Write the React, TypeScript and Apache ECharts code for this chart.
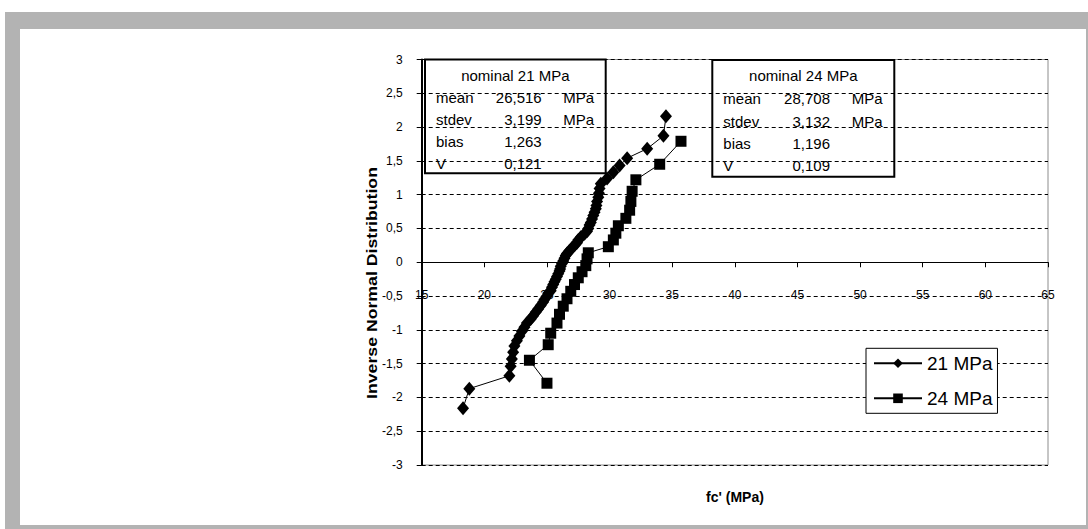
import React, { useEffect, useRef } from "react";
import * as echarts from "echarts";

const FONT = "Liberation Sans, Arial, sans-serif";

// 21 MPa series (x = fc' MPa, y = inverse normal)
const s21x = [18.3, 18.8, 22.0, 22.1, 22.2, 22.3, 22.4, 22.6, 22.8, 23.0, 23.2, 23.4, 23.7, 23.9, 24.1, 24.3, 24.5, 24.7, 24.8, 25.0, 25.1, 25.3, 25.4, 25.5, 25.6, 25.7, 25.8, 25.9, 26.0, 26.05, 26.1, 26.2,
  26.3, 26.4, 26.5, 26.6, 26.8, 27.0, 27.2, 27.4, 27.5, 27.7, 28.0, 28.2, 28.3, 28.4, 28.5, 28.6, 28.7, 28.8, 28.9, 28.95, 29.0, 29.1, 29.15, 29.2, 29.3, 29.8, 30.3, 30.8, 31.4, 33.0, 34.3, 34.5];
const s21y = [-2.16, -1.87, -1.68, -1.54, -1.43, -1.33, -1.24, -1.16, -1.09, -1.02, -0.96, -0.9, -0.84, -0.79, -0.74, -0.69, -0.64, -0.59, -0.55, -0.5, -0.46, -0.42, -0.37, -0.33, -0.29, -0.25, -0.21, -0.17, -0.13, -0.1, -0.06, -0.02,
  0.02, 0.06, 0.1, 0.13, 0.17, 0.21, 0.25, 0.29, 0.33, 0.37, 0.42, 0.46, 0.5, 0.55, 0.59, 0.64, 0.69, 0.74, 0.79, 0.84, 0.9, 0.96, 1.02, 1.09, 1.16, 1.24, 1.33, 1.43, 1.54, 1.68, 1.87, 2.16];

// 24 MPa series
const s24x = [25.0, 23.6, 25.1, 25.3, 25.8, 26.0, 26.3, 26.6, 26.9, 27.2, 27.5, 27.8, 28.1, 28.2, 28.3, 29.9, 30.3, 30.5, 30.7, 31.3, 31.6, 31.7, 31.8, 32.1, 34.0, 35.7];
const s24y = [-1.79, -1.45, -1.22, -1.05, -0.9, -0.77, -0.65, -0.54, -0.43, -0.33, -0.23, -0.14, -0.05, 0.05, 0.14, 0.23, 0.33, 0.43, 0.54, 0.65, 0.77, 0.9, 1.05, 1.22, 1.45, 1.79];

const seriesNames = ["21 MPa", "24 MPa"];

// Statistics boxes
const box21Title = "nominal 21 MPa";
const box24Title = "nominal 24 MPa";
const statLabels = ["mean", "stdev", "bias", "V"];
const stats21 = ["26,516", "3,199", "1,263", "0,121"];
const stats24 = ["28,708", "3,132", "1,196", "0,109"];
const statUnits = ["MPa", "MPa", "", ""];

const xMin = 15, xMax = 65, xStep = 5;
const yMin = -3, yMax = 3, yStep = 0.5;

const GRID = { left: 421.7, top: 59.5, width: 626.3, height: 405.5 };
const BOX_FS = 15;

function statBox(x: number, y: number, w: number, h: number, title: string, vals: string[], valRight: number, unitLeft: number, rowY: number[]) {
  const children: any[] = [
    { type: "rect", shape: { x, y, width: w, height: h }, style: { fill: "#fff", stroke: "#000", lineWidth: 2 } },
    { type: "text", x: x + w / 2, y: rowY[0], style: { text: title, fontSize: BOX_FS, fontFamily: FONT, fill: "#000", align: "center", verticalAlign: "middle" } },
  ];
  statLabels.forEach((lab, i) => {
    children.push({ type: "text", x: x + 11, y: rowY[i + 1], style: { text: lab, fontSize: BOX_FS, fontFamily: FONT, fill: "#000", align: "left", verticalAlign: "middle" } });
    children.push({ type: "text", x: valRight, y: rowY[i + 1], style: { text: vals[i], fontSize: BOX_FS, fontFamily: FONT, fill: "#000", align: "right", verticalAlign: "middle" } });
    if (statUnits[i]) {
      children.push({ type: "text", x: unitLeft, y: rowY[i + 1], style: { text: statUnits[i], fontSize: BOX_FS, fontFamily: FONT, fill: "#000", align: "left", verticalAlign: "middle" } });
    }
  });
  return { type: "group", z: 100, children };
}

export default function App() {
  const ref = useRef<HTMLDivElement>(null);
  useEffect(() => {
    if (!ref.current) return;
    const chart = echarts.init(ref.current, undefined, { renderer: "svg" });
    const d21 = s21x.map((v, i) => [v, s21y[i]]);
    const d24 = s24x.map((v, i) => [v, s24y[i]]);
    // x axis crosses at y = 0: shift it up from the bottom by the zero position
    const zeroOffset = -GRID.height * (0 - yMin) / (yMax - yMin);
    chart.setOption({
      animation: false,
      backgroundColor: "#fff",
      textStyle: { fontFamily: FONT },
      grid: { ...GRID, show: true, borderColor: "#8c8c8c", borderWidth: 1, backgroundColor: "transparent" },
      xAxis: {
        type: "value", min: xMin, max: xMax, interval: xStep,
        position: "bottom", offset: zeroOffset,
        axisLine: { show: true, onZero: false, lineStyle: { color: "#000", width: 1 } },
        axisTick: { show: true, length: 5, lineStyle: { color: "#000" } },
        axisLabel: { color: "#000", fontSize: 12, fontFamily: FONT, margin: 27 },
        splitLine: { show: false },
      },
      yAxis: {
        type: "value", min: yMin, max: yMax, interval: yStep,
        axisLine: { show: true, onZero: false, lineStyle: { color: "#000", width: 2 } },
        axisTick: { show: true, length: 5, lineStyle: { color: "#000" } },
        axisLabel: { color: "#000", fontSize: 12, fontFamily: FONT, margin: 19, formatter: (v: number) => String(v).replace(".", ",") },
        splitLine: { show: true, lineStyle: { color: "#000", type: [4, 3], width: 1 } },
      },
      legend: {
        data: seriesNames,
        orient: "vertical",
        left: 866, top: 348.3,
        padding: [5, 5, 5, 7],
        itemWidth: 48, itemHeight: 12, itemGap: 15,
        backgroundColor: "#fff", borderColor: "#000", borderWidth: 1,
        textStyle: { color: "#000", fontSize: 19, fontFamily: FONT, lineHeight: 20 },
        z: 100,
      },
      series: [
        {
          name: seriesNames[0], type: "line", data: d21, symbol: "diamond", symbolSize: [12, 14],
          lineStyle: { color: "#000", width: 1 }, itemStyle: { color: "#000" }, z: 3,
        },
        {
          name: seriesNames[1], type: "line", data: d24, symbol: "rect", symbolSize: 11,
          lineStyle: { color: "#000", width: 1 }, itemStyle: { color: "#000" }, z: 3,
        },
      ],
      graphic: [
        { type: "rect", z: -10, silent: true, shape: { x: 5, y: 12, width: 1090, height: 530 }, style: { fill: "#b3b3b3" } },
        { type: "rect", z: -9, silent: true, shape: { x: 20, y: 29, width: 1066, height: 496 }, style: { fill: "#fff" } },
        { type: "text", z: 50, x: 372, y: 283, rotation: Math.PI / 2, scaleX: 1.18, style: { text: "Inverse Normal Distribution", fontSize: 15, fontWeight: "bold", fontFamily: FONT, fill: "#000", align: "center", verticalAlign: "middle" } },
        { type: "text", z: 50, x: 735, y: 497, style: { text: "fc' (MPa)", fontSize: 14, fontWeight: "bold", fontFamily: FONT, fill: "#000", align: "center", verticalAlign: "middle" } },
        statBox(425, 59.5, 180.7, 113.8, box21Title, stats21, 541.7, 563.3, [75, 97.3, 119.3, 141.3, 163.3]),
        statBox(712.3, 60, 182, 116.7, box24Title, stats24, 830, 851.7, [75, 98.3, 121, 143.6, 165.5]),
      ],
    });
    return () => chart.dispose();
  }, []);
  return <div ref={ref} style={{ position: "absolute", left: 0, top: 0, width: 1088, height: 529 }} />;
}
